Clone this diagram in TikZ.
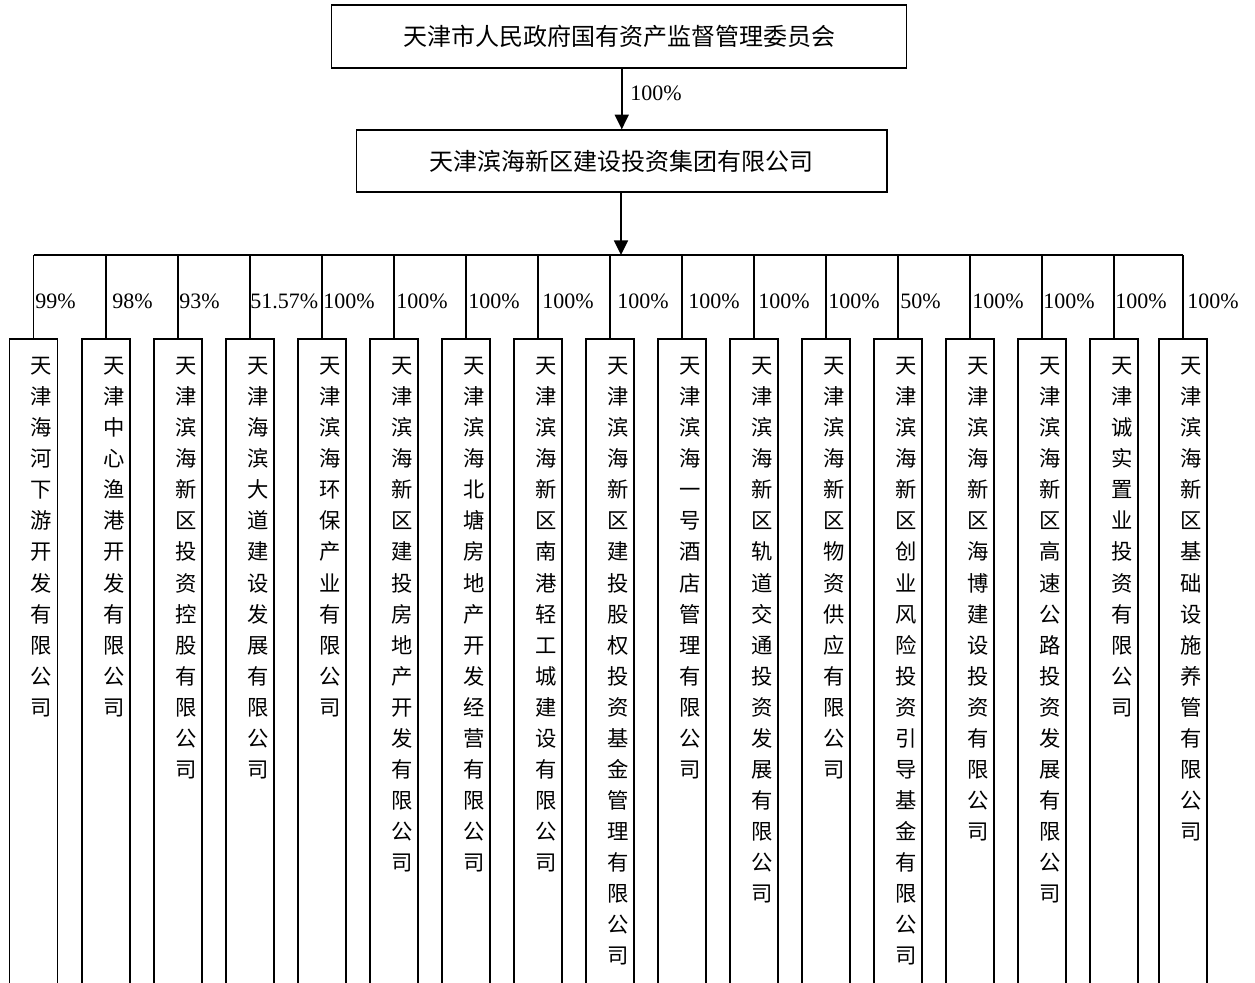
\documentclass[tikz,border=0pt]{standalone}
\usepackage{fontspec}
\setmainfont{Liberation Serif}
\newfontfamily\cjk{Noto Sans CJK SC}
\usetikzlibrary{arrows.meta,calc}
\def\vt#1{\vtloop#1\relax}
\def\vtloop#1{\ifx#1\relax\else #1\\\expandafter\vtloop\fi}
\tikzset{
 box/.style={draw, line width=1.2pt, rectangle, inner sep=0pt},
 cbox/.style={box, anchor=north, minimum width=36pt, minimum height=496.5pt},
 vtext/.style={anchor=north, inner sep=0pt, align=center, font=\cjk\fontsize{16pt}{23.3pt}\selectfont},
 pct/.style={anchor=west, inner sep=0pt, font=\fontsize{16.5pt}{18pt}\selectfont},
 conn/.style={line width=1.2pt},
 arr/.style={conn, -{Triangle[width=10.5pt,length=11pt]}},
}
\begin{document}
\begin{tikzpicture}[x=0.75pt,y=-0.75pt]
\useasboundingbox (0,0) rectangle (1255,982);
\clip (0,0) rectangle (1255,982);
\node[box, minimum width=431.25pt, minimum height=47.25pt, font=\cjk\fontsize{18pt}{20pt}\selectfont] (gov) at (619,36.5) {天津市人民政府国有资产监督管理委员会};
\node[box, minimum width=397.9pt, minimum height=46.3pt, font=\cjk\fontsize{18pt}{20pt}\selectfont] (grp) at (621.75,161) {天津滨海新区建设投资集团有限公司};
\draw[arr] (gov.south -| grp.north) -- (grp.north);
\node[pct] (p0) at (630,93) {100\%};
\coordinate (bus) at (621,255);
\draw[arr] (grp.south -| bus) -- (bus);
\foreach \i/\x/\lx/\p/\name in {
 1/33.5/35/99\%/天津海河下游开发有限公司,
 2/106/112/98\%/天津中心渔港开发有限公司,
 3/177.7/179/93\%/天津滨海新区投资控股有限公司,
 4/250/250/51.57\%/天津海滨大道建设发展有限公司,
 5/322/323/100\%/天津滨海环保产业有限公司,
 6/394/396/100\%/天津滨海新区建投房地产开发有限公司,
 7/466/468/100\%/天津滨海北塘房地产开发经营有限公司,
 8/537.7/542/100\%/天津滨海新区南港轻工城建设有限公司,
 9/610/617/100\%/天津滨海新区建投股权投资基金管理有限公司,
 10/682/688/100\%/天津滨海一号酒店管理有限公司,
 11/754/758/100\%/天津滨海新区轨道交通投资发展有限公司,
 12/826/828/100\%/天津滨海新区物资供应有限公司,
 13/898/900/50\%/天津滨海新区创业风险投资引导基金有限公司,
 14/970/972/100\%/天津滨海新区海博建设投资有限公司,
 15/1042/1043/100\%/天津滨海新区高速公路投资发展有限公司,
 16/1114/1115/100\%/天津诚实置业投资有限公司,
 17/1183/1187/100\%/天津滨海新区基础设施养管有限公司}{
 \node[cbox] (c\i) at (\x,338) {};
 \node[vtext] (t\i) at ({\x+8},357) {\expandafter\vt\expandafter{\name}};
 \node[pct] (p\i) at (\lx,301) {\p};
}
\draw[conn] (c1.north |- bus) -- (c17.north |- bus);
\foreach \i in {1,...,17}{
 \draw[conn] (c\i.north |- bus) -- (c\i.north);
}
\end{tikzpicture}
\end{document}
